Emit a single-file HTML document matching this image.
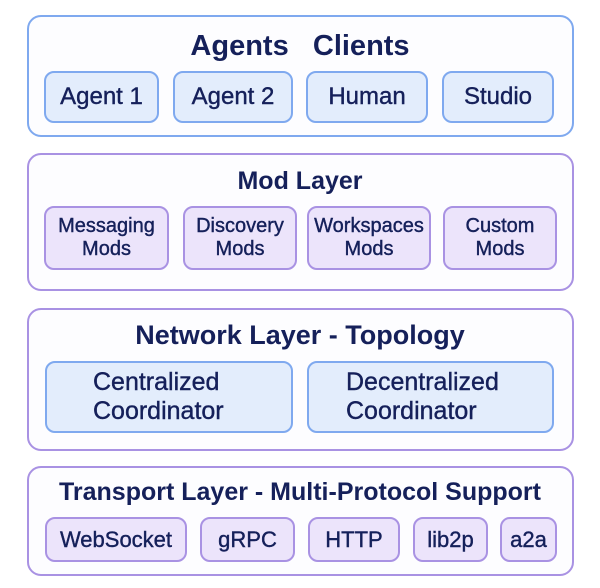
<!DOCTYPE html>
<html><head><style>
body{margin:0;width:600px;height:588px;background:#fff;font-family:"Liberation Sans",sans-serif;color:#15205a;position:relative;overflow:hidden}
.o{position:absolute;border:2.5px solid;border-radius:14px;box-sizing:border-box;background:#fdfdff}
.b{border-color:#7fa9ef}.p{border-color:#a992e3}
.i{position:absolute;box-sizing:border-box;border:2.5px solid;border-radius:10px;display:flex;align-items:center;justify-content:center;text-align:center;line-height:1.15;-webkit-text-stroke:0.4px #15205a}
.ib{border-color:#7fa9ef;background:#e3edfc}.ip{border-color:#a992e3;background:#ece4fb}
.t{position:absolute;left:0;width:600px;text-align:center;font-weight:bold}
</style></head><body>
<div class="o b" style="left:27px;top:15px;width:547px;height:122px"></div>
<div class="t" style="top:30px;font-size:29px">Agents&nbsp;&nbsp;&nbsp;Clients</div>
<div class="i ib" style="left:44px;top:71px;width:115px;height:52px;font-size:24px">Agent 1</div>
<div class="i ib" style="left:173px;top:71px;width:120px;height:52px;font-size:24px">Agent 2</div>
<div class="i ib" style="left:306px;top:71px;width:122px;height:52px;font-size:24px">Human</div>
<div class="i ib" style="left:442px;top:71px;width:112px;height:52px;font-size:24px">Studio</div>

<div class="o p" style="left:27px;top:153px;width:547px;height:138px"></div>
<div class="t" style="top:167px;font-size:25px">Mod Layer</div>
<div class="i ip" style="left:44px;top:206px;width:125px;height:64px;font-size:20px">Messaging<br>Mods</div>
<div class="i ip" style="left:183px;top:206px;width:114px;height:64px;font-size:20px">Discovery<br>Mods</div>
<div class="i ip" style="left:307px;top:206px;width:124px;height:64px;font-size:20px">Workspaces<br>Mods</div>
<div class="i ip" style="left:443px;top:206px;width:114px;height:64px;font-size:20px">Custom<br>Mods</div>

<div class="o p" style="left:27px;top:308px;width:547px;height:143px"></div>
<div class="t" style="top:320px;font-size:27px">Network Layer - Topology</div>
<div class="i ib" style="left:45px;top:361px;width:248px;height:72px;font-size:25px;justify-content:flex-start;padding-left:46px;text-align:left">Centralized<br>Coordinator</div>
<div class="i ib" style="left:307px;top:361px;width:247px;height:72px;font-size:25px;justify-content:flex-start;padding-left:37px;text-align:left">Decentralized<br>Coordinator</div>

<div class="o p" style="left:27px;top:466px;width:547px;height:110px"></div>
<div class="t" style="top:478px;font-size:25px">Transport Layer - Multi-Protocol Support</div>
<div class="i ip" style="left:45px;top:517px;width:142px;height:45px;font-size:22px">WebSocket</div>
<div class="i ip" style="left:200px;top:517px;width:95px;height:45px;font-size:22px">gRPC</div>
<div class="i ip" style="left:308px;top:517px;width:92px;height:45px;font-size:22px">HTTP</div>
<div class="i ip" style="left:413px;top:517px;width:75px;height:45px;font-size:22px">lib2p</div>
<div class="i ip" style="left:500px;top:517px;width:57px;height:45px;font-size:22px">a2a</div>
</body></html>
